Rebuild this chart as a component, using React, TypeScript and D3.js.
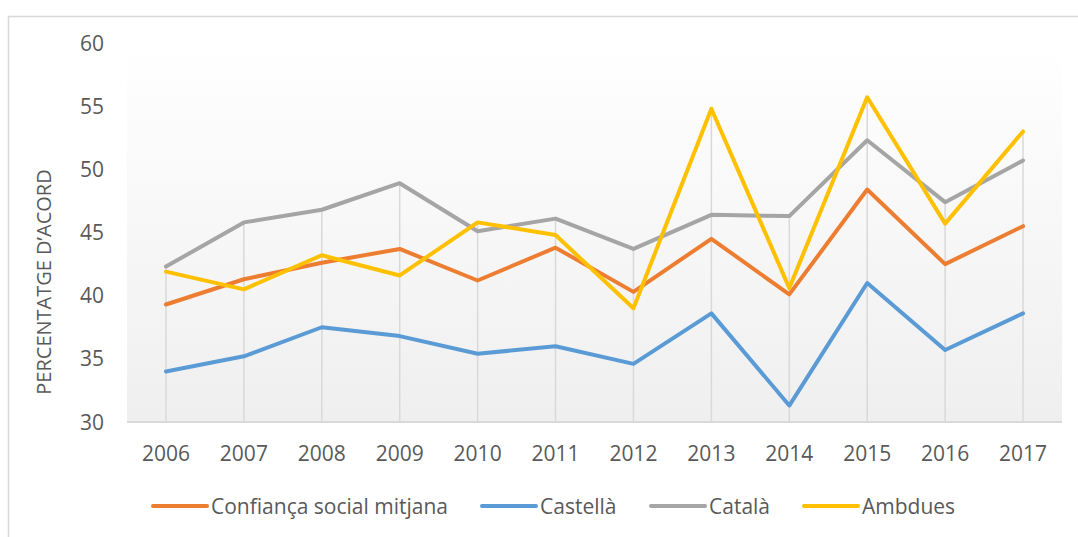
import { useEffect, useRef } from "react";
import * as d3 from "d3";

const years = ["2006", "2007", "2008", "2009", "2010", "2011", "2012", "2013", "2014", "2015", "2016", "2017"];
const confianca = [39.3, 41.3, 42.6, 43.7, 41.2, 43.8, 40.3, 44.5, 40.1, 48.4, 42.5, 45.5];
const castella = [34.0, 35.2, 37.5, 36.8, 35.4, 36.0, 34.6, 38.6, 31.3, 41.0, 35.7, 38.6];
const catala = [42.3, 45.8, 46.8, 48.9, 45.1, 46.1, 43.7, 46.4, 46.3, 52.3, 47.4, 50.7];
const ambdues = [41.9, 40.5, 43.2, 41.6, 45.8, 44.8, 39.0, 54.8, 40.6, 55.7, 45.7, 53.0];
const seriesNames = ["Confiança social mitjana", "Castellà", "Català", "Ambdues"];
const seriesColors = ["#ED7D31", "#5B9BD5", "#A5A5A5", "#FFC000"];
const yTicks = [30, 35, 40, 45, 50, 55, 60];

interface ISeries {
  name: string;
  color: string;
  values: number[];
}

function Chart() {
  const ref = useRef<SVGSVGElement>(null);

  useEffect(() => {
    const width = 1078;
    const height = 537;
    const plot = { left: 127, right: 1062, top: 43, bottom: 422 };
    const font = "'Open Sans', sans-serif";
    const textColor = "#595959";

    const svg = d3.select(ref.current);
    svg.selectAll("*").remove();
    svg.attr("width", width).attr("height", height);

    const series: ISeries[] = [confianca, castella, catala, ambdues].map((values, i) => ({
      name: seriesNames[i],
      color: seriesColors[i],
      values,
    }));

    // chart border
    svg
      .append("rect")
      .attr("x", 8.5)
      .attr("y", 16.5)
      .attr("width", 1080)
      .attr("height", 540)
      .attr("fill", "#ffffff")
      .attr("stroke", "#d9d9d9")
      .attr("stroke-width", 1.5);

    const xScale = d3.scaleBand<string>().domain(years).range([plot.left, plot.right]);
    const xPos = (year: string) => (xScale(year) as number) + xScale.bandwidth() / 2;
    const yScale = d3.scaleLinear().domain([30, 60]).range([plot.bottom, plot.top]);

    // plot area gradient
    const grad = svg
      .append("defs")
      .append("linearGradient")
      .attr("id", "plotGrad")
      .attr("x1", 0)
      .attr("y1", 0)
      .attr("x2", 0)
      .attr("y2", 1);
    grad.append("stop").attr("offset", "0%").attr("stop-color", "#ffffff");
    grad.append("stop").attr("offset", "100%").attr("stop-color", "#efefef");
    svg
      .append("rect")
      .attr("x", plot.left)
      .attr("y", plot.top)
      .attr("width", plot.right - plot.left)
      .attr("height", plot.bottom - plot.top)
      .attr("fill", "url(#plotGrad)");

    // drop lines from highest point to the axis
    svg
      .append("g")
      .selectAll("line")
      .data(years)
      .join("line")
      .attr("x1", (d) => xPos(d))
      .attr("x2", (d) => xPos(d))
      .attr("y1", (_, i) => yScale(d3.max(series, (s) => s.values[i]) as number))
      .attr("y2", plot.bottom)
      .attr("stroke", "#d9d9d9")
      .attr("stroke-width", 1.5);

    // x axis line
    svg
      .append("line")
      .attr("x1", plot.left)
      .attr("x2", plot.right)
      .attr("y1", plot.bottom)
      .attr("y2", plot.bottom)
      .attr("stroke", "#d9d9d9")
      .attr("stroke-width", 2);

    // x labels
    svg
      .append("g")
      .selectAll("text")
      .data(years)
      .join("text")
      .attr("x", (d) => xPos(d))
      .attr("y", 461)
      .attr("text-anchor", "middle")
      .attr("font-family", font)
      .attr("font-size", 21)
      .attr("fill", textColor)
      .text((d) => d);

    // y labels
    svg
      .append("g")
      .selectAll("text")
      .data(yTicks)
      .join("text")
      .attr("x", 104)
      .attr("y", (d) => yScale(d))
      .attr("dy", "0.36em")
      .attr("text-anchor", "end")
      .attr("font-family", font)
      .attr("font-size", 21)
      .attr("fill", textColor)
      .text((d) => d);

    // y title
    svg
      .append("text")
      .attr("transform", `translate(51, 282) rotate(-90)`)
      .attr("text-anchor", "middle")
      .attr("font-family", font)
      .attr("font-size", 20)
      .attr("fill", textColor)
      .text("PERCENTATGE D\u2019ACORD");

    const line = d3
      .line<number>()
      .x((_, i) => xPos(years[i]))
      .y((d) => yScale(d));

    svg
      .append("g")
      .selectAll("path")
      .data(series)
      .join("path")
      .attr("fill", "none")
      .attr("stroke", (d) => d.color)
      .attr("stroke-width", 4)
      .attr("stroke-linejoin", "round")
      .attr("stroke-linecap", "round")
      .attr("d", (d) => line(d.values));

    // legend
    const legendX = [153, 482, 651, 804];
    const legend = svg
      .append("g")
      .selectAll("g")
      .data(series)
      .join("g")
      .attr("transform", (_, i) => `translate(${legendX[i]}, 506)`);
    legend
      .append("line")
      .attr("x1", 0)
      .attr("x2", 54)
      .attr("stroke", (d) => d.color)
      .attr("stroke-width", 4)
      .attr("stroke-linecap", "round");
    legend
      .append("text")
      .attr("x", 58)
      .attr("dy", "0.36em")
      .attr("font-family", font)
      .attr("font-size", 21)
      .attr("fill", textColor)
      .text((d) => d.name);
  }, []);

  return <svg ref={ref} style={{ position: "absolute", left: 0, top: 0 }}></svg>;
}

export default function App() {
  return <Chart />;
}
